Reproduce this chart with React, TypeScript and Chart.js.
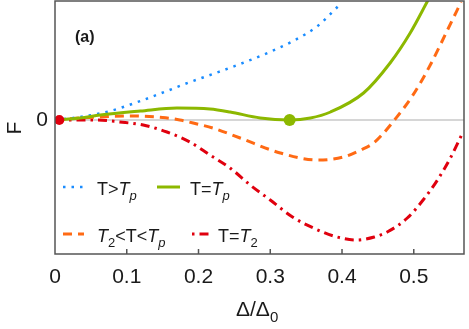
import React, { useEffect, useRef } from "react";
import { Chart, registerables } from "chart.js";

Chart.register(...registerables);

const FONT = "'Liberation Sans', Arial, sans-serif";

// axis ranges and ticks
const xTicks = [0, 0.1, 0.2, 0.3, 0.4, 0.5];
const yTicks = [0];
const xMin = 0;
const xMax = 0.57;
const yMin = -1.34;
const yMax = 1.19;

// T > Tp (blue dotted)
const blueX = [0, 0.035, 0.077, 0.119, 0.156, 0.181, 0.22, 0.258, 0.296, 0.332, 0.366, 0.395];
const blueY = [0, 0.03, 0.09, 0.19, 0.29, 0.36, 0.46, 0.56, 0.67, 0.79, 0.94, 1.14];

// T = Tp (green solid)
const greenX = [0, 0.035, 0.063, 0.119, 0.17, 0.216, 0.244, 0.286, 0.327, 0.356, 0.384, 0.43, 0.467, 0.495, 0.52];
const greenY = [0, 0.02, 0.05, 0.09, 0.12, 0.11, 0.08, 0.02, 0, 0.02, 0.08, 0.27, 0.57, 0.87, 1.2];

// T2 < T < Tp (orange dashed)
const orangeX = [0, 0.035, 0.077, 0.11, 0.15, 0.174, 0.198, 0.22, 0.258, 0.314, 0.366, 0.402, 0.426, 0.444, 0.458, 0.472, 0.498, 0.523, 0.547, 0.566];
const orangeY = [0, 0.02, 0.035, 0.04, 0.025, 0, -0.04, -0.08, -0.18, -0.33, -0.4, -0.37, -0.3, -0.23, -0.13, -0.01, 0.24, 0.55, 0.9, 1.18];

// T = T2 (red dash-dot)
const redX = [0, 0.059, 0.09, 0.123, 0.156, 0.188, 0.216, 0.244, 0.272, 0.3, 0.331, 0.36, 0.393, 0.42, 0.445, 0.463, 0.491, 0.513, 0.533, 0.551, 0.568];
const redY = [0, 0, -0.02, -0.05, -0.12, -0.22, -0.35, -0.48, -0.65, -0.8, -0.97, -1.08, -1.17, -1.2, -1.17, -1.12, -0.98, -0.8, -0.6, -0.38, -0.13];

// marked points
const pointX = [0.006, 0.327];
const pointY = [0, 0];

const BLUE = "#1a8cff";
const GREEN = "#8cb800";
const ORANGE = "#ff6a14";
const RED = "#e0000e";

type Part = { t: string; it?: boolean; sub?: boolean };
const legendTp: Part[] = [{ t: "T>" }, { t: "T", it: true }, { t: "p", it: true, sub: true }];
const legendEq: Part[] = [{ t: "T=" }, { t: "T", it: true }, { t: "p", it: true, sub: true }];
const legendMid: Part[] = [
  { t: "T", it: true }, { t: "2", sub: true }, { t: "<T<" }, { t: "T", it: true }, { t: "p", it: true, sub: true },
];
const legendT2: Part[] = [{ t: "T=" }, { t: "T", it: true }, { t: "2", sub: true }];
const xTitle: Part[] = [{ t: "Δ/Δ" }, { t: "0", sub: true }];

const pts = (xs: number[], ys: number[]) => xs.map((x, i) => ({ x, y: ys[i] }));

function drawRich(ctx: CanvasRenderingContext2D, x: number, y: number, parts: Part[], size: number, subSize: number, subDrop: number) {
  let cx = x;
  ctx.textBaseline = "alphabetic";
  ctx.textAlign = "left";
  for (const p of parts) {
    const fs = p.sub ? subSize : size;
    ctx.font = `${p.it ? "italic " : ""}${fs}px ${FONT}`;
    ctx.fillText(p.t, cx, p.sub ? y + subDrop : y);
    cx += ctx.measureText(p.t).width;
  }
}

const deco = {
  id: "deco",
  beforeDatasetsDraw(chart: any) {
    const { ctx, chartArea: a, scales } = chart;
    const y0 = scales.y.getPixelForValue(0);
    ctx.save();
    ctx.strokeStyle = "#c8c8c8";
    ctx.lineWidth = 1.5;
    ctx.beginPath();
    ctx.moveTo(a.left, y0);
    ctx.lineTo(a.right, y0);
    ctx.stroke();
    ctx.restore();
  },
  afterDraw(chart: any) {
    const { ctx, chartArea: a, scales } = chart;
    ctx.save();
    // frame
    ctx.strokeStyle = "#555";
    ctx.lineWidth = 1.5;
    ctx.strokeRect(a.left, a.top, a.right - a.left, a.bottom - a.top);
    // inward ticks on x
    ctx.beginPath();
    for (const v of xTicks) {
      if (v === 0) continue;
      const px = scales.x.getPixelForValue(v);
      ctx.moveTo(px, a.bottom);
      ctx.lineTo(px, a.bottom - 5);
    }
    ctx.stroke();

    ctx.fillStyle = "#1a1a1a";
    // (a)
    ctx.font = `bold 16px ${FONT}`;
    ctx.textBaseline = "alphabetic";
    ctx.textAlign = "left";
    ctx.fillText("(a)", 75, 42);

    // y title
    ctx.save();
    ctx.translate(21, 128);
    ctx.rotate(-Math.PI / 2);
    ctx.font = `21px ${FONT}`;
    ctx.textAlign = "center";
    ctx.fillText("F", 0, 0);
    ctx.restore();

    // x title
    drawRich(ctx, 236, 316, xTitle, 21, 15, 6);

    // legend samples
    const sample = (x1: number, x2: number, y: number, color: string, dash: number[], w: number) => {
      ctx.save();
      ctx.strokeStyle = color;
      ctx.lineWidth = w;
      ctx.setLineDash(dash);
      ctx.beginPath();
      ctx.moveTo(x1, y);
      ctx.lineTo(x2, y);
      ctx.stroke();
      ctx.restore();
    };
    sample(63, 85, 187, BLUE, [2.5, 6], 2.5);
    sample(157, 180, 187, GREEN, [], 3);
    sample(63, 84, 234, ORANGE, [9, 6], 3);
    sample(192, 210, 234, RED, [2.5, 5, 9, 5], 3);

    ctx.fillStyle = "#1a1a1a";
    drawRich(ctx, 97, 195, legendTp, 18, 13, 5);
    drawRich(ctx, 190, 195, legendEq, 18, 13, 5);
    drawRich(ctx, 97, 242, legendMid, 18, 13, 5);
    drawRich(ctx, 218, 242, legendT2, 18, 13, 5);
    ctx.restore();
  },
};

export default function App() {
  const ref = useRef<HTMLCanvasElement>(null);
  useEffect(() => {
    if (!ref.current) return;
    const line = (data: any, color: string, dash: number[], w: number) => ({
      type: "line" as const,
      data,
      borderColor: color,
      backgroundColor: color,
      borderWidth: w,
      borderDash: dash,
      pointRadius: 0,
      cubicInterpolationMode: "monotone" as const,
      fill: false,
    });
    const chart = new Chart(ref.current, {
      type: "scatter",
      data: {
        datasets: [
          {
            type: "scatter",
            data: pts(pointX, pointY),
            pointRadius: [5, 6],
            pointBackgroundColor: [RED, GREEN],
            pointBorderWidth: 0,
            showLine: false,
          } as any,
          line(pts(greenX, greenY), GREEN, [], 3),
          line(pts(blueX, blueY), BLUE, [2.5, 6], 2.5),
          line(pts(orangeX, orangeY), ORANGE, [9, 6], 3),
          line(pts(redX, redY), RED, [9, 5, 2.5, 5], 3),
        ],
      },
      options: {
        animation: false,
        responsive: false,
        maintainAspectRatio: false,
        layout: { autoPadding: false, padding: { top: 1, right: 5, left: 0, bottom: 0 } },
        plugins: { legend: { display: false }, tooltip: { enabled: false } },
        scales: {
          x: {
            type: "linear",
            min: xMin,
            max: xMax,
            afterBuildTicks: (s: any) => {
              s.ticks = xTicks.map((v) => ({ value: v }));
            },
            afterFit: (s: any) => {
              s.height = 75;
              s.paddingLeft = 0;
              s.paddingRight = 0;
              s.paddingTop = 0;
              s.paddingBottom = 0;
            },
            grid: { display: false, drawTicks: false },
            border: { display: false },
            ticks: {
              padding: 11,
              maxRotation: 0,
              autoSkip: false,
              color: "#1a1a1a",
              font: { family: FONT, size: 21 },
              callback: (v: any) => (v === 0 ? "0" : Number(v).toFixed(1)),
            },
          },
          y: {
            type: "linear",
            min: yMin,
            max: yMax,
            afterBuildTicks: (s: any) => {
              s.ticks = yTicks.map((v) => ({ value: v }));
            },
            afterFit: (s: any) => {
              s.width = 55;
              s.paddingLeft = 0;
              s.paddingRight = 0;
              s.paddingTop = 0;
              s.paddingBottom = 0;
            },
            grid: { display: false, drawTicks: false },
            border: { display: false },
            ticks: {
              padding: 7,
              color: "#1a1a1a",
              font: { family: FONT, size: 21 },
              callback: (v: any) => String(v),
            },
          },
        },
      },
      plugins: [deco],
    });
    return () => chart.destroy();
  }, []);
  return (
    <div style={{ position: "fixed", left: 0, top: 0, width: 469, height: 329, background: "#fff" }}>
      <canvas ref={ref} width={469} height={329} style={{ display: "block" }} />
    </div>
  );
}
